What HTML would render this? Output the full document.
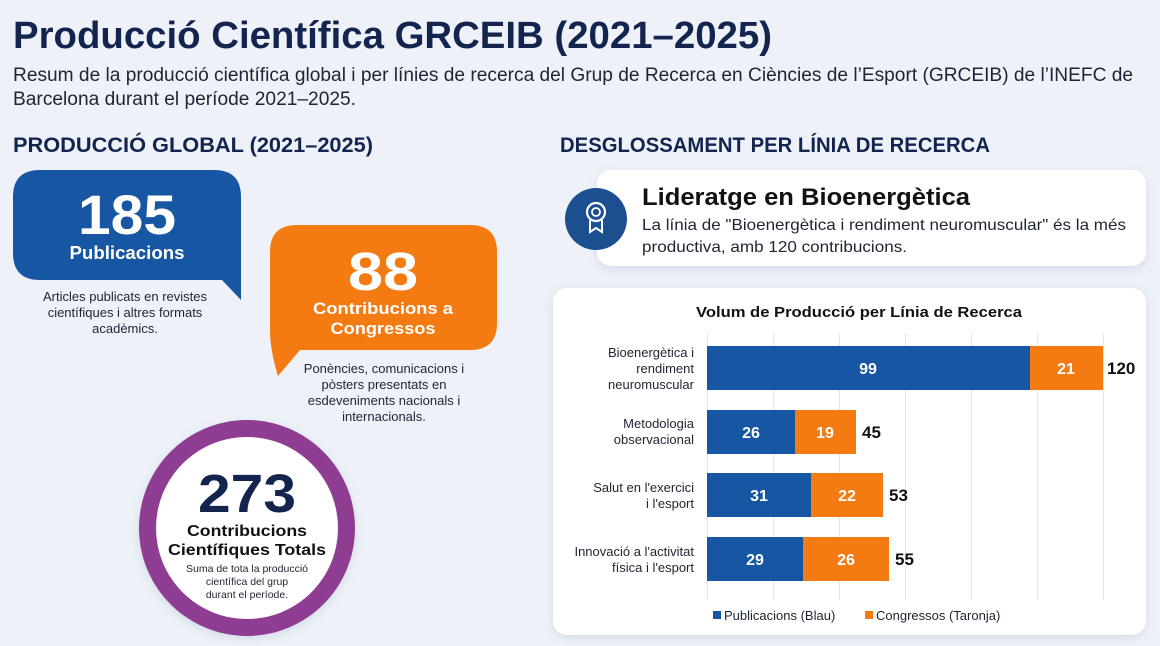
<!DOCTYPE html>
<html><head><meta charset="utf-8"><style>
html,body{margin:0;padding:0;background:#eef2f8;}
svg{display:block;font-family:"Liberation Sans",sans-serif;}
</style></head><body>
<svg width="1160" height="646" viewBox="0 0 1160 646" xmlns="http://www.w3.org/2000/svg">
<defs>
<filter id="sh" x="-10%" y="-10%" width="120%" height="130%"><feDropShadow dx="0" dy="3" stdDeviation="5" flood-color="#8090b0" flood-opacity="0.25"/></filter>
</defs>
<rect width="1160" height="646" fill="#eef2f8"/>
<text x="13" y="48" font-size="38" font-weight="bold" fill="#13244f" textLength="759" lengthAdjust="spacingAndGlyphs">Producció Científica GRCEIB (2021–2025)</text>
<text x="13" y="81" font-size="19" fill="#1d2433" textLength="1120" lengthAdjust="spacingAndGlyphs">Resum de la producció científica global i per línies de recerca del Grup de Recerca en Ciències de l’Esport (GRCEIB) de l’INEFC de</text>
<text x="13" y="105" font-size="19" fill="#1d2433" textLength="343" lengthAdjust="spacingAndGlyphs">Barcelona durant el període 2021–2025.</text>
<text x="13" y="152" font-size="21" font-weight="bold" fill="#13244f" textLength="360" lengthAdjust="spacingAndGlyphs">PRODUCCIÓ GLOBAL (2021–2025)</text>
<text x="560" y="152" font-size="21" font-weight="bold" fill="#13244f" textLength="430" lengthAdjust="spacingAndGlyphs">DESGLOSSAMENT PER LÍNIA DE RECERCA</text>

<!-- blue bubble -->
<path d="M40,170 H214 Q241,170 241,197 V300 L222,280 H40 Q13,280 13,253 V197 Q13,170 40,170 Z" fill="#1756a3"/>
<text x="127" y="234" font-size="56" font-weight="bold" fill="#fff" text-anchor="middle" textLength="98" lengthAdjust="spacingAndGlyphs">185</text>
<text x="127" y="259" font-size="18" font-weight="bold" fill="#fff" text-anchor="middle" textLength="115" lengthAdjust="spacingAndGlyphs">Publicacions</text>
<g font-size="13" fill="#1d2433" text-anchor="middle">
<text x="125" y="301">Articles publicats en revistes</text>
<text x="125" y="317">científiques i altres formats</text>
<text x="125" y="333">acadèmics.</text>
</g>

<!-- orange bubble -->
<path d="M297,225 H470 Q497,225 497,252 V323 Q497,350 470,350 H300 L278,376 Q270,350 270,330 V252 Q270,225 297,225 Z" fill="#f47a12"/>
<text x="383" y="290" font-size="54" font-weight="bold" fill="#fff" text-anchor="middle" textLength="70" lengthAdjust="spacingAndGlyphs">88</text>
<text x="383" y="314" font-size="17" font-weight="bold" fill="#fff" text-anchor="middle" textLength="140" lengthAdjust="spacingAndGlyphs">Contribucions a</text>
<text x="383" y="334" font-size="17" font-weight="bold" fill="#fff" text-anchor="middle" textLength="105" lengthAdjust="spacingAndGlyphs">Congressos</text>
<g font-size="13" fill="#1d2433" text-anchor="middle">
<text x="384" y="373">Ponències, comunicacions i</text>
<text x="384" y="389">pòsters presentats en</text>
<text x="384" y="405">esdeveniments nacionals i</text>
<text x="384" y="421">internacionals.</text>
</g>

<!-- circle -->
<circle cx="247" cy="528" r="108" fill="#8e3c92" filter="url(#sh)"/>
<circle cx="247" cy="528" r="91" fill="#ffffff"/>
<text x="247" y="512" font-size="54" font-weight="bold" fill="#13244f" text-anchor="middle" textLength="98" lengthAdjust="spacingAndGlyphs">273</text>
<text x="247" y="536" font-size="16" font-weight="bold" fill="#111" text-anchor="middle" textLength="120" lengthAdjust="spacingAndGlyphs">Contribucions</text>
<text x="247" y="555" font-size="16" font-weight="bold" fill="#111" text-anchor="middle" textLength="158" lengthAdjust="spacingAndGlyphs">Científiques Totals</text>
<g font-size="10.5" fill="#1d2433" text-anchor="middle">
<text x="247" y="572">Suma de tota la producció</text>
<text x="247" y="585">científica del grup</text>
<text x="247" y="598">durant el període.</text>
</g>

<!-- leadership card -->
<rect x="597" y="170" width="549" height="96" rx="14" fill="#fff" filter="url(#sh)"/>
<circle cx="596" cy="219" r="31" fill="#1c4f8f"/>
<circle cx="596" cy="212" r="9" fill="none" stroke="#fff" stroke-width="2.2"/>
<circle cx="596" cy="212" r="4" fill="none" stroke="#fff" stroke-width="1.8"/>
<path d="M590,220 L590,232 L596,228 L602,232 L602,220" fill="none" stroke="#fff" stroke-width="2"/>
<text x="642" y="205" font-size="24" font-weight="bold" fill="#111" textLength="328" lengthAdjust="spacingAndGlyphs">Lideratge en Bioenergètica</text>
<text x="642" y="230" font-size="16" fill="#1d2433" textLength="484" lengthAdjust="spacingAndGlyphs">La línia de "Bioenergètica i rendiment neuromuscular" és la més</text>
<text x="642" y="252" font-size="16" fill="#1d2433" textLength="265" lengthAdjust="spacingAndGlyphs">productiva, amb 120 contribucions.</text>

<!-- chart card -->
<rect x="553" y="288" width="593" height="347" rx="14" fill="#fff" filter="url(#sh)"/>
<text x="859" y="317" font-size="15" font-weight="bold" fill="#111" text-anchor="middle" textLength="326" lengthAdjust="spacingAndGlyphs">Volum de Producció per Línia de Recerca</text>
<g stroke="#e3e6ec" stroke-width="1">
<line x1="707.5" y1="333" x2="707.5" y2="600"/><line x1="773.5" y1="333" x2="773.5" y2="600"/><line x1="839.5" y1="333" x2="839.5" y2="600"/><line x1="905.5" y1="333" x2="905.5" y2="600"/><line x1="971.5" y1="333" x2="971.5" y2="600"/><line x1="1037.5" y1="333" x2="1037.5" y2="600"/><line x1="1103.5" y1="333" x2="1103.5" y2="600"/>
</g>
<rect x="707" y="346" width="323" height="44" fill="#1756a3"/><rect x="1030" y="346" width="73" height="44" fill="#f47a12"/>
<rect x="707" y="410" width="88" height="44" fill="#1756a3"/><rect x="795" y="410" width="61" height="44" fill="#f47a12"/>
<rect x="707" y="473" width="104" height="44" fill="#1756a3"/><rect x="811" y="473" width="72" height="44" fill="#f47a12"/>
<rect x="707" y="537" width="96" height="44" fill="#1756a3"/><rect x="803" y="537" width="86" height="44" fill="#f47a12"/>
<g font-size="16" font-weight="bold" fill="#fff" text-anchor="middle">
<text x="868" y="374">99</text><text x="1066" y="374">21</text>
<text x="751" y="438">26</text><text x="825" y="438">19</text>
<text x="759" y="501">31</text><text x="847" y="501">22</text>
<text x="755" y="565">29</text><text x="846" y="565">26</text>
</g>
<g font-size="17" font-weight="bold" fill="#111">
<text x="1107" y="374">120</text><text x="862" y="438">45</text><text x="889" y="501">53</text><text x="895" y="565">55</text>
</g>
<g font-size="13" fill="#1d2433" text-anchor="end">
<text x="694" y="357">Bioenergètica i</text><text x="694" y="373">rendiment</text><text x="694" y="389">neuromuscular</text>
<text x="694" y="428">Metodologia</text><text x="694" y="444">observacional</text>
<text x="694" y="492">Salut en l'exercici</text><text x="694" y="508">i l'esport</text>
<text x="694" y="556">Innovació a l'activitat</text><text x="694" y="572">física i l'esport</text>
</g>
<rect x="713" y="611" width="8" height="8" fill="#1756a3"/>
<text x="724" y="620" font-size="13" fill="#1d2433">Publicacions (Blau)</text>
<rect x="865" y="611" width="8" height="8" fill="#f47a12"/>
<text x="876" y="620" font-size="13" fill="#1d2433">Congressos (Taronja)</text>
</svg>
</body></html>
